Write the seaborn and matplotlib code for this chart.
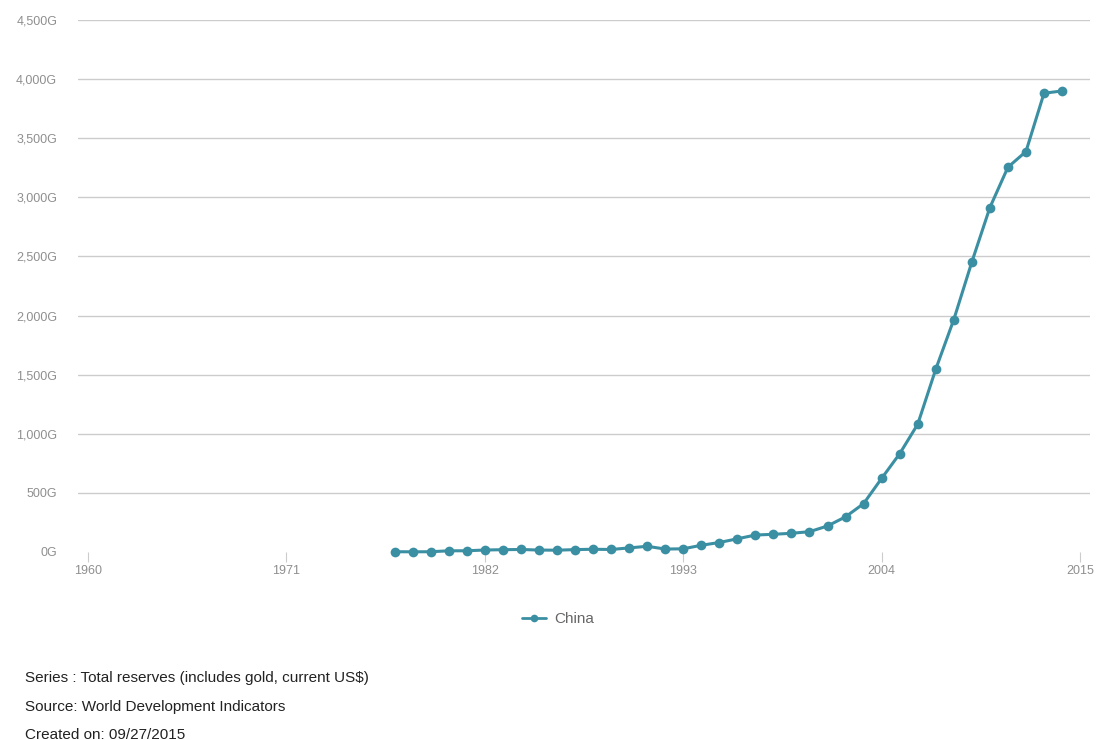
import matplotlib
matplotlib.use("Agg")
import matplotlib.pyplot as plt
import seaborn as sns
import pandas as pd
from matplotlib.ticker import FuncFormatter, FixedLocator
from matplotlib.lines import Line2D

years = list(range(1977, 2015))
reserves_bn = [2.3, 1.6, 2.2, 10.1, 10.4, 16.7, 19.6, 21.3, 16.5, 15.3,
               20.2, 23.2, 21.3, 34.5, 48.2, 25.0, 27.0, 56.8, 80.3, 111.7,
               143.4, 149.8, 158.3, 171.8, 220.1, 297.7, 409.2, 622.9, 831.4, 1080.8,
               1546.4, 1966.0, 2452.9, 2913.7, 3254.7, 3387.5, 3880.4, 3900.0]
country = "China"
x_ticks = [1960, 1971, 1982, 1993, 2004, 2015]
y_ticks = [0, 500, 1000, 1500, 2000, 2500, 3000, 3500, 4000, 4500]
footer = ["Series : Total reserves (includes gold, current US$)",
          "Source: World Development Indicators",
          "Created on: 09/27/2015"]

df = pd.DataFrame({"year": years, "value": reserves_bn, "country": country})

sns.set_theme(style="white")
plt.rcParams["font.family"] = ["Liberation Sans", "DejaVu Sans"]

color = "#3b8fa2"
fig = plt.figure(figsize=(10.99, 7.40), dpi=100)
ax = fig.add_axes([78 / 1099, (740 - 552) / 740, (1090 - 78) / 1099, (552 - 20) / 740])

sns.lineplot(data=df, x="year", y="value", ax=ax, color=color, marker="o",
             markersize=7, linewidth=2.2, markeredgewidth=0, legend=False)
for ln in ax.get_lines():
    ln.set_clip_on(False)

ax.set_xlim(1959.45, 2015.55)
ax.set_ylim(0, 4500)
ax.yaxis.set_major_locator(FixedLocator(y_ticks))
ax.xaxis.set_major_locator(FixedLocator(x_ticks))
ax.yaxis.set_major_formatter(FuncFormatter(lambda v, p: f"{v:,.0f}G"))
ax.set_xlabel("")
ax.set_ylabel("")
for s in ax.spines.values():
    s.set_visible(False)
ax.grid(axis="y", color="#cccccc", linewidth=1)
ax.grid(axis="x", visible=False)
for gl, t in zip(ax.get_ygridlines(), y_ticks):
    if t == 0:
        gl.set_visible(False)
ax.tick_params(axis="y", length=0, pad=15, labelsize=9, labelcolor="#8f8f8f")
ax.tick_params(axis="x", length=7.5, width=0.8, color="#cccccc", pad=2,
               labelsize=9, labelcolor="#8f8f8f", bottom=True, direction="out")

handle = Line2D([0], [0], color=color, marker="o", markersize=5.5, linewidth=2,
                markeredgewidth=0)
fig.legend([handle], [country], loc="center", bbox_to_anchor=(558 / 1099, 1 - 619 / 740),
           frameon=False, fontsize=11, labelcolor="#666666", handlelength=1.6,
           handletextpad=0.5)

for i, line in enumerate(footer):
    fig.text(25 / 1099, 1 - (678 + 28.5 * i) / 740, line, fontsize=11,
             color="#222222", va="center", ha="left")

fig.savefig("out.png", dpi=100, facecolor="white")
